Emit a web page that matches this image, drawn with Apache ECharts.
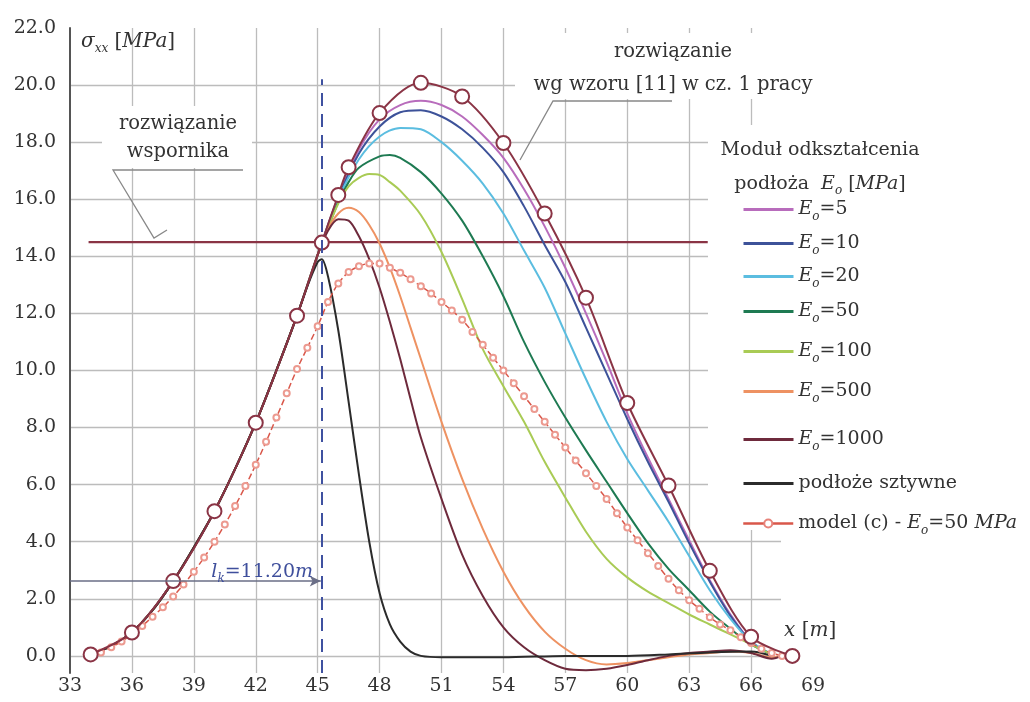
<!DOCTYPE html>
<html><head><meta charset="utf-8">
<script src="https://cdn.jsdelivr.net/npm/echarts@6/dist/echarts.min.js"></script>
<style>html,body{margin:0;padding:0;background:#fff}#c{width:1030px;height:702px}</style>
</head><body><div id="c"></div>
<script>
// ---------- data ----------
const xLabelTicks = [33,36,39,42,45,48,51,54,57,60,63,66,69];
const xGridTicks  = [36,39,42,45,48,51,54,57,60,63,66];
const yLabelTicks = [0,2,4,6,8,10,12,14,16,18,20,22];
const yGridTicks  = [0,2,4,6,8,10,12,14,16,18,20];

// analytic solution "wg wzoru [11]" (circle markers)
const analytic = [[34,0.05],[36,0.82],[38,2.62],[40,5.07],[42,8.17],[44,11.92],[45.2,14.48],[46,16.15],[46.5,17.12],[48,19.02],[50,20.08],[52,19.6],[54,17.97],[56,15.5],[58,12.55],[60,8.86],[62,5.97],[64,2.98],[66,0.67],[68,0.0]];
// cantilever solution level
const cantilever = [[33.9,14.5],[63.9,14.5]];
// common rising branch
const rise = [[34,0.05],[35,0.35],[36,0.83],[37,1.6],[38,2.62],[39,3.8],[40,5.07],[41,6.55],[42,8.17],[43,10.0],[44,11.92],[45,14.05]];
const e5Tail = [[46,16.1],[47,17.75],[48,18.8],[49,19.3],[50,19.45],[51,19.3],[52,18.9],[53,18.25],[54,17.45],[55,16.35],[56,15.05],[57,13.6],[58,12.0],[59,10.3],[60,8.5],[61,6.95],[62,5.5],[63,4.05],[64,2.65],[65,1.45],[66,0.5],[67,0.05]];
const e10Tail = [[46,16.05],[47,17.6],[48,18.55],[49,19.05],[50,19.12],[51,18.9],[52,18.45],[53,17.8],[54,16.95],[55,15.75],[56,14.4],[57,13.1],[58,11.5],[59,9.9],[60,8.3],[61,6.8],[62,5.4],[63,3.95],[64,2.6],[65,1.4],[66,0.5],[67,0.05]];
const e20Tail = [[46,16.0],[47,17.4],[48,18.2],[49,18.5],[50,18.45],[51,18.0],[52,17.35],[53,16.55],[54,15.5],[55,14.2],[56,12.9],[57,11.3],[58,9.7],[59,8.2],[60,6.9],[61,5.8],[62,4.7],[63,3.5],[64,2.3],[65,1.3],[66,0.5],[67,0.05]];
const e50Tail = [[45.5,15.0],[46,15.9],[46.5,16.6],[47,17.1],[48,17.5],[48.5,17.55],[49,17.45],[50,16.95],[51,16.2],[52,15.25],[53,14.0],[54,12.6],[55,11.0],[56,9.6],[57,8.35],[58,7.2],[59,6.1],[60,5.0],[61,3.95],[62,3.05],[63,2.3],[64,1.55],[65,0.95],[66,0.4],[67,0.05]];
const e100Tail = [[45.5,15.0],[46,15.85],[46.5,16.45],[47,16.75],[47.5,16.88],[48,16.85],[48.5,16.6],[49,16.3],[50,15.45],[51,14.15],[52,12.5],[53,10.75],[54,9.45],[55,8.2],[56,6.8],[57,5.55],[58,4.35],[59,3.4],[60,2.75],[61,2.25],[62,1.85],[63,1.45],[64,1.1],[65,0.75],[66,0.4],[67,0.05]];
const e500Tail = [[45.5,14.95],[46,15.5],[46.5,15.7],[47,15.55],[47.5,15.1],[48,14.45],[48.5,13.6],[49,12.6],[49.5,11.5],[50,10.4],[51,8.2],[52,6.2],[53,4.45],[54,2.95],[55,1.75],[56,0.85],[57,0.25],[58,-0.15],[59,-0.3],[60,-0.25],[61,-0.15],[62,-0.05],[63,0.05],[64,0.1],[65,0.15],[66,0.1],[67,-0.05],[67.5,0]];
const e1000Tail = [[45.5,14.9],[46,15.3],[46.5,15.25],[47,14.7],[47.5,13.9],[48,12.9],[48.5,11.7],[49,10.4],[49.5,9.0],[50,7.65],[51,5.5],[52,3.55],[53,2.1],[54,1.0],[55,0.3],[56,-0.15],[57,-0.45],[58,-0.5],[59,-0.45],[60,-0.32],[61,-0.15],[62,0.0],[63,0.1],[64,0.15],[65,0.2],[66,0.1],[67,-0.1],[67.5,0]];
const rigidRise = [[34,0.05],[35,0.35],[36,0.83],[37,1.6],[38,2.62],[39,3.8],[40,5.07],[41,6.55],[42,8.17],[43,10.0],[44,11.92]];
const rigidTail = [[44.5,12.95],[45,13.8],[45.2,13.9],[45.5,13.3],[46,11.4],[46.5,8.9],[47,6.35],[47.5,4.0],[48,2.2],[48.5,1.1],[49,0.5],[49.5,0.15],[50,0.0],[51,-0.05],[54,-0.05],[57,0.0],[60,0.0],[62,0.05],[64,0.12],[66,0.15],[67,0.0]];
const modelC = [[34,0.0],[34.5,0.12],[35,0.3],[35.5,0.5],[36,0.75],[36.5,1.05],[37,1.37],[37.5,1.7],[38,2.08],[38.5,2.5],[39,2.95],[39.5,3.45],[40,4.0],[40.5,4.6],[41,5.25],[41.5,5.95],[42,6.7],[42.5,7.5],[43,8.35],[43.5,9.2],[44,10.05],[44.5,10.8],[45,11.55],[45.5,12.4],[46,13.05],[46.5,13.45],[47,13.65],[47.5,13.75],[48,13.75],[48.5,13.6],[49,13.42],[49.5,13.2],[50,12.95],[50.5,12.7],[51,12.4],[51.5,12.1],[52,11.78],[52.5,11.35],[53,10.9],[53.5,10.45],[54,10.0],[54.5,9.55],[55,9.1],[55.5,8.65],[56,8.2],[56.5,7.75],[57,7.3],[57.5,6.85],[58,6.4],[58.5,5.95],[59,5.5],[59.5,5.0],[60,4.5],[60.5,4.05],[61,3.6],[61.5,3.15],[62,2.7],[62.5,2.3],[63,1.95],[63.5,1.65],[64,1.35],[64.5,1.1],[65,0.9],[65.5,0.65],[66,0.45],[66.5,0.25],[67,0.1],[67.5,0.0]];
const lk = 45.2;

const legendNames = ['Eo=5','Eo=10','Eo=20','Eo=50','Eo=100','Eo=500','Eo=1000','podłoże sztywne','model (c) - Eo=50 MPa'];
const legendY = [213,247,280,315,355,395,443,487,527];

// ---------- styling ----------
const F = 'DejaVu Serif';
const TXT = '#333';
const FS = 19;
const colors = ['#b86cbc','#3d5299','#5bbde0','#1e7a52','#a9cb55','#ee9262','#6e2a3c','#2b2b2b','#dc5a4c'];
function mkRich(color, fs){
  return {
    n: {fontFamily:F, fontSize:fs, color, fill:color, lineHeight:26, fontWeight:'normal'},
    i: {fontFamily:F, fontSize:fs, color, fill:color, fontStyle:'italic', lineHeight:26, fontWeight:'normal'},
    s: {fontFamily:F, fontSize:12, color, fill:color, fontStyle:'italic', verticalAlign:'bottom', fontWeight:'normal'}
  };
}
const rich = mkRich(TXT, FS);
function legendLabel(name){
  if (name.indexOf('model') === 0) return '{n|model (c) - }{i|E}{s|o}{n|=50 }{i|MPa}';
  if (name.indexOf('Eo=') === 0) return '{i|E}{s|o}{n|' + name.slice(2) + '}';
  return '{n|' + name + '}';
}
function lineSeries(name, data, color, extra){
  return Object.assign({
    name, type:'line', data, smooth:0.3, symbol:'none',
    lineStyle:{color, width:2}, itemStyle:{color}, z:3
  }, extra || {});
}

const series = [
  lineSeries(legendNames[0], rise.concat(e5Tail), colors[0]),
  lineSeries(legendNames[1], rise.concat(e10Tail), colors[1]),
  lineSeries(legendNames[2], rise.concat(e20Tail), colors[2]),
  lineSeries(legendNames[3], rise.concat(e50Tail), colors[3]),
  lineSeries(legendNames[4], rise.concat(e100Tail), colors[4]),
  lineSeries(legendNames[5], rise.concat(e500Tail), colors[5]),
  lineSeries(legendNames[6], rise.concat(e1000Tail), colors[6]),
  lineSeries(legendNames[7], rigidRise.concat(rigidTail), colors[7]),
  lineSeries(legendNames[8], modelC, colors[8], {
    symbol:'emptyCircle', symbolSize:6, showSymbol:true,
    lineStyle:{color:'#d9574a', width:1.5, type:[6,3]},
    itemStyle:{color:'#ec9a90', borderWidth:1.3}
  }),
  lineSeries('analytic', analytic, '#8a3445', {
    symbol:'circle', symbolSize:14, showSymbol:true, smooth:0.3, z:4,
    itemStyle:{color:'#fff', borderColor:'#8a3445', borderWidth:2}
  }),
  {
    name:'cantilever', type:'line', data:cantilever, symbol:'none', z:2,
    lineStyle:{color:'#8a3445', width:2.2},
    markLine:{
      silent:true, animation:false, label:{show:false},
      data:[
        [{coord:[lk,-0.6], symbol:'none', lineStyle:{color:'#3f51a0', width:2, type:[13,8]}}, {coord:[lk,20.2], symbol:'none'}],
        [{coord:[33,2.62], symbol:'none', lineStyle:{color:'#6a6e86', width:1.5, type:'solid'}}, {coord:[lk-0.05,2.62], symbol:'arrow', symbolSize:[8,11]}]
      ]
    }
  }
];

const legends = legendNames.map((n,i)=>{
  const isModel = i === 8;
  return {
    data:[n], left:742, top:legendY[i]-13, padding:0, itemWidth:50, itemHeight:isModel ? 10 : 14, z:8,
    selectedMode:false, formatter:legendLabel, textStyle:{rich, color:TXT},
    lineStyle: isModel ? {width:2.5, type:'solid', color:'#d9574a'} : {width:3, type:'solid'},
    itemStyle: isModel ? {color:'#e7837a', borderWidth:1.3} : {opacity:0}
  };
});

const chart = echarts.init(document.getElementById('c'));
chart.setOption({
  animation:false,
  backgroundColor:'#fff',
  grid:{left:70, right:217, top:28, bottom:29},
  xAxis:{
    type:'value', min:33, max:69, interval:3,
    axisLine:{show:false}, axisTick:{show:false, customValues:xGridTicks},
    axisLabel:{customValues:xLabelTicks, fontFamily:F, fontSize:19, color:TXT, margin:4},
    splitLine:{show:true, lineStyle:{color:'#bcbcbc', width:1.3}}
  },
  yAxis:{
    type:'value', min:-0.6, max:22,
    axisLine:{show:true, lineStyle:{color:'#555', width:2}},
    axisTick:{show:false, customValues:yGridTicks},
    axisLabel:{customValues:yLabelTicks, fontFamily:F, fontSize:19, color:TXT, margin:14,
               formatter:v=>Number(v).toFixed(1)},
    splitLine:{show:true, lineStyle:{color:'#bcbcbc', width:1.3}}
  },
  legend:legends,
  series,
  graphic:{
    elements:[
    // trim horizontal grid lines on the right (behind series)
    {type:'rect', shape:{x:781,y:30,width:40,height:640}, style:{fill:'#fff'}, z:1, silent:true},
    // white boxes behind texts
    {type:'rect', shape:{x:708,y:125,width:322,height:405}, style:{fill:'#fff'}, z:5, silent:true},
    {type:'rect', shape:{x:515,y:33,width:320,height:66}, style:{fill:'#fff'}, z:5, silent:true},
    {type:'rect', shape:{x:102,y:106,width:150,height:62}, style:{fill:'#fff'}, z:5, silent:true},
    // axis titles
    {type:'text', z:10, style:{x:81, y:42, verticalAlign:'middle', fill:TXT, text:'{i|σ}{s|xx}{n| [}{i|MPa}{n|]}', rich:mkRich(TXT,20)}},
    {type:'text', z:10, style:{x:784, y:631, verticalAlign:'middle', fill:TXT, text:'{i|x}{n| [}{i|m}{n|]}', rich:mkRich(TXT,20)}},
    // legend title
    {type:'text', z:10, style:{x:820, y:150, text:'Moduł odkształcenia', fontFamily:F, fontSize:FS, fontWeight:'normal', fill:TXT, align:'center', verticalAlign:'middle'}},
    {type:'text', z:10, style:{x:820, y:184, fill:TXT, text:'{n|podłoża  }{i|E}{s|o}{n| [}{i|MPa}{n|]}', rich, align:'center', verticalAlign:'middle'}},
    // annotations
    {type:'text', z:10, style:{x:673, y:52, text:'rozwiązanie', fontFamily:F, fontSize:19.5, fill:TXT, align:'center', verticalAlign:'middle'}},
    {type:'text', z:10, style:{x:673, y:85, text:'wg wzoru [11] w cz. 1 pracy', fontFamily:F, fontSize:19.5, fill:TXT, align:'center', verticalAlign:'middle'}},
    {type:'polyline', z:10, shape:{points:[[672,101],[553,101],[520,160]]}, style:{stroke:'#888', lineWidth:1.3, fill:null}},
    {type:'text', z:10, style:{x:178, y:124, text:'rozwiązanie', fontFamily:F, fontSize:19.5, fill:TXT, align:'center', verticalAlign:'middle'}},
    {type:'text', z:10, style:{x:178, y:152, text:'wspornika', fontFamily:F, fontSize:19.5, fill:TXT, align:'center', verticalAlign:'middle'}},
    {type:'polyline', z:10, shape:{points:[[243,170],[113,170],[154,238],[167,230]]}, style:{stroke:'#888', lineWidth:1.3, fill:null}},
    // l_k label
    {type:'text', z:10, style:{x:313, y:572, align:'right', verticalAlign:'middle', fill:'#3f4f9c',
      text:'{i|l}{s|k}{n|=11.20}{i|m}', rich:mkRich('#3f4f9c', 19)}}
    ]
  }
});
</script>
</body></html>
